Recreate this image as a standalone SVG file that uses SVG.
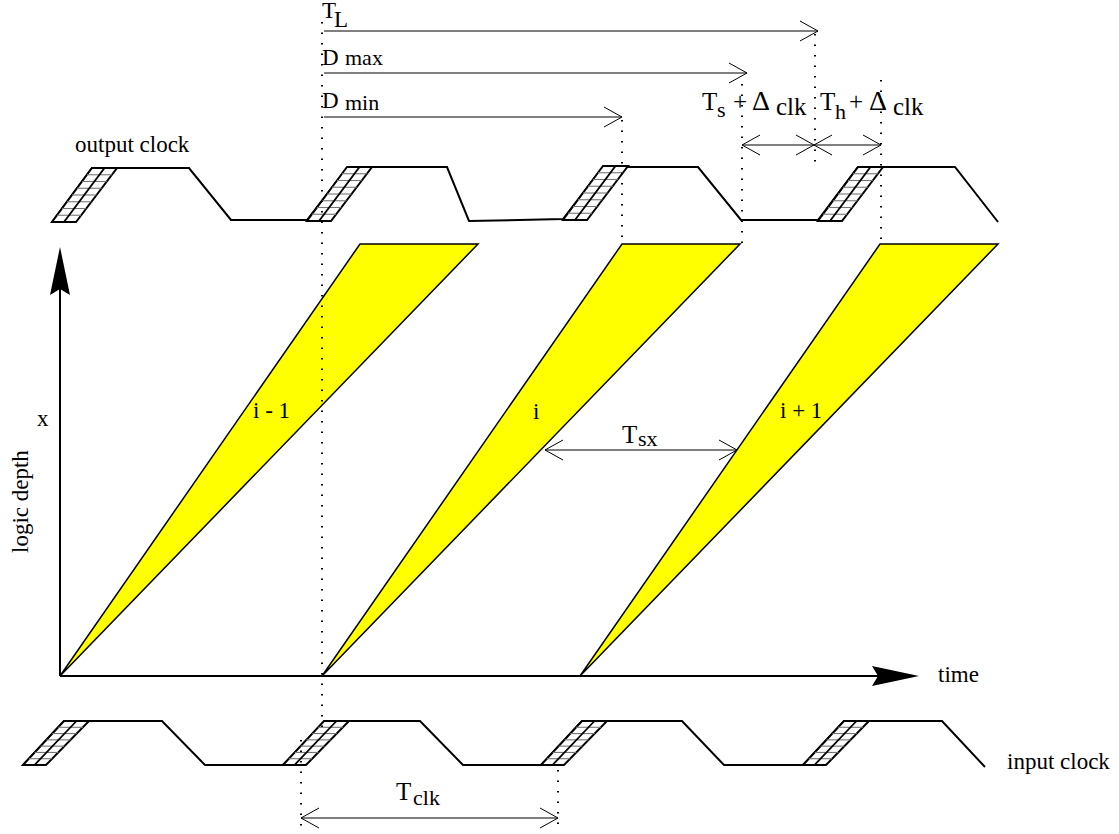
<svg xmlns="http://www.w3.org/2000/svg" xmlns:xlink="http://www.w3.org/1999/xlink" width="1119" height="834" viewBox="0 0 1119 834">
<style>
text{font-family:"Liberation Serif","Times New Roman",serif;fill:#000}
.lbl{font-size:23px}
.big{font-size:25px}
.sub{font-size:22px}
.wave{fill:none;stroke:#000;stroke-width:2;stroke-linejoin:miter}
.hatch{fill:#fff;stroke:#000;stroke-width:2}
.row{stroke:#777;stroke-width:1.1}
.tri{fill:#ffff00;stroke:#000;stroke-width:1.5;stroke-linejoin:miter}
.axis{stroke:#000;stroke-width:2}
.arr{stroke:#000;stroke-width:1;fill:none}
.dot{stroke:#000;stroke-width:2;stroke-dasharray:1.5 9;fill:none}
</style>
<defs>
<marker id="open" markerUnits="userSpaceOnUse" markerWidth="24" markerHeight="24" refX="20" refY="12" orient="auto-start-reverse" viewBox="0 0 24 24">
<path d="M2,2 L20,12 L2,22" fill="none" stroke="#000" stroke-width="1"/>
</marker>
<g id="hOut">
<polygon class="hatch" points="0,0 24,0 65,-54 40,-54"/>
<line class="row" x1="5" y1="-6.75" x2="29.1" y2="-6.75"/>
<line class="row" x1="10" y1="-13.5" x2="34.25" y2="-13.5"/>
<line class="row" x1="15" y1="-20.25" x2="39.4" y2="-20.25"/>
<line class="row" x1="20" y1="-27" x2="44.5" y2="-27"/>
<line class="row" x1="25" y1="-33.75" x2="49.6" y2="-33.75"/>
<line class="row" x1="30" y1="-40.5" x2="54.75" y2="-40.5"/>
<line class="row" x1="35" y1="-47.25" x2="59.9" y2="-47.25"/>
<line x1="12" y1="0" x2="52.5" y2="-54" stroke="#000" stroke-width="1.8"/>
</g>
<g id="hIn">
<polygon class="hatch" points="0,0 23,0 66,-44 41,-44"/>
<line class="row" x1="5.86" y1="-6.29" x2="29.14" y2="-6.29"/>
<line class="row" x1="11.71" y1="-12.57" x2="35.29" y2="-12.57"/>
<line class="row" x1="17.57" y1="-18.86" x2="41.43" y2="-18.86"/>
<line class="row" x1="23.43" y1="-25.14" x2="47.57" y2="-25.14"/>
<line class="row" x1="29.29" y1="-31.43" x2="53.71" y2="-31.43"/>
<line class="row" x1="35.14" y1="-37.71" x2="59.86" y2="-37.71"/>
<line x1="11.5" y1="0" x2="53.5" y2="-44" stroke="#000" stroke-width="1.8"/>
</g>
</defs>
<rect width="1119" height="834" fill="#fff"/>

<g id="wave-im1">
<polygon class="tri" points="60,676 360,244 478,244"/>
<text class="lbl" x="253" y="418">i - 1</text>
</g>
<g id="wave-i">
<polygon class="tri" points="322,676 622,244 740,244"/>
<text class="lbl" x="533" y="419">i</text>
</g>
<g id="wave-ip1">
<polygon class="tri" points="580,676 880,244 998,244"/>
<text class="lbl" x="780" y="418">i + 1</text>
</g>

<g id="axes">
<line class="axis" x1="60" y1="676" x2="60" y2="288"/>
<polygon points="60,247 70,295 60,289 50,295" fill="#000"/>
<line class="axis" x1="60" y1="676" x2="880" y2="676"/>
<polygon points="919,676 872,666 878,676 872,686" fill="#000"/>
<text class="lbl" x="37" y="426">x</text>
<text class="lbl" transform="translate(28,553) rotate(-90)">logic depth</text>
<text class="lbl" x="938" y="682">time</text>
</g>

<g id="output-clock">
<path class="wave" d="M52,222 L92,168 L189,168 L231,220 L307,220 L348,167 L447,167 L469,221 L563,219 L603,167 L698,167 L741,220 L818,220 L858,167 L955,167 L998,222"/>
<use xlink:href="#hOut" href="#hOut" x="52" y="222"/>
<use xlink:href="#hOut" href="#hOut" x="307" y="221"/>
<use xlink:href="#hOut" href="#hOut" x="563" y="220"/>
<use xlink:href="#hOut" href="#hOut" x="818" y="221"/>
<text class="lbl" x="75" y="152">output clock</text>
</g>

<g id="input-clock">
<path class="wave" d="M23,765 L64,721 L162,721 L205,765 L283,765 L325,721 L420,721 L463,765 L541,765 L582,721 L682,721 L724,765 L803,765 L844,721 L942,721 L985,767"/>
<use xlink:href="#hIn" href="#hIn" x="23" y="765"/>
<use xlink:href="#hIn" href="#hIn" x="283" y="765"/>
<use xlink:href="#hIn" href="#hIn" x="541" y="765"/>
<use xlink:href="#hIn" href="#hIn" x="803" y="765"/>
<text class="lbl" x="1007" y="769">input clock</text>
</g>

<g id="connectors">
<line class="dot" x1="322" y1="22" x2="322" y2="728"/>
<line class="dot" x1="301" y1="740" x2="301" y2="832"/>
<line class="dot" x1="558" y1="770" x2="558" y2="832"/>
<line class="dot" x1="622" y1="120" x2="622" y2="246"/>
<line class="dot" x1="742" y1="84" x2="742" y2="246"/>
<line class="dot" x1="815" y1="34" x2="815" y2="170"/>
<line class="dot" x1="881" y1="80" x2="881" y2="246"/>

<line class="arr" x1="324" y1="31" x2="818" y2="31" marker-end="url(#open)"/>
<line class="arr" x1="324" y1="73" x2="747" y2="73" marker-end="url(#open)"/>
<line class="arr" x1="324" y1="117" x2="622" y2="117" marker-end="url(#open)"/>
<line class="arr" x1="742" y1="145" x2="814" y2="145" marker-start="url(#open)" marker-end="url(#open)"/>
<line class="arr" x1="814" y1="145" x2="881" y2="145" marker-start="url(#open)" marker-end="url(#open)"/>
<line class="arr" x1="545" y1="450" x2="737" y2="450" marker-start="url(#open)" marker-end="url(#open)"/>
<line class="arr" x1="301" y1="818" x2="558" y2="818" marker-start="url(#open)" marker-end="url(#open)"/>

<text class="lbl" x="322" y="18">T</text>
<text class="lbl" x="334" y="27">L</text>
<text class="lbl" x="322" y="65">D</text>
<text class="sub" x="345" y="65">max</text>
<text class="lbl" x="322" y="108">D</text>
<text class="sub" x="345" y="110">min</text>
<text class="big" x="702" y="110">T</text>
<text class="sub" x="717" y="117">s</text>
<text class="big" x="733" y="110">+</text>
<text font-size="28" x="752" y="110">Δ</text>
<text class="big" x="776" y="115">clk</text>
<text class="big" x="820" y="110">T</text>
<text class="sub" x="835" y="119">h</text>
<text class="big" x="849" y="110">+</text>
<text font-size="28" x="869" y="110">Δ</text>
<text class="big" x="893" y="115">clk</text>
<text class="big" x="622" y="443">T</text>
<text class="sub" x="638" y="446">sx</text>
<text class="big" x="396" y="800">T</text>
<text class="sub" x="413" y="805">clk</text>
</g>
</svg>
